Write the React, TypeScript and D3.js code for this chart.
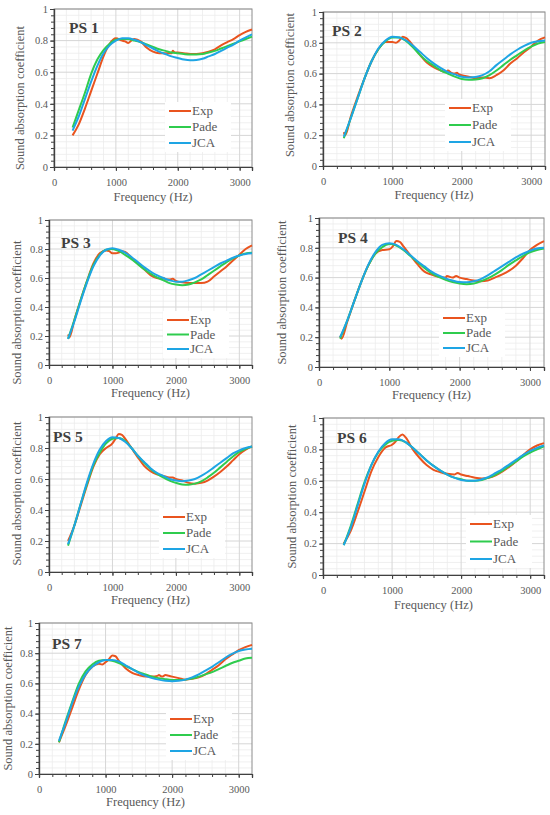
import { useRef, useEffect } from 'react';
import * as d3 from 'd3';

// shared frequency grid for the two model curves (Hz)
const freqs = [
  300, 400, 500, 600, 700, 800, 900, 1000, 1100, 1200, 1300, 1400, 1500, 1600, 1700,
  1800, 1900, 2000, 2100, 2200, 2300, 2400, 2500, 2600, 2700, 2800, 2900, 3000, 3100, 3200,
];
const xTicks = [0, 1000, 2000, 3000];
const yTicks = [0, 0.2, 0.4, 0.6, 0.8, 1];
const seriesNames = ['Exp', 'Pade', 'JCA'];
const seriesColors = ['#e9541f', '#2fcc4e', '#1ea5e4'];

// measured curves: [frequency, coefficient]
const ps1Exp: [number, number][] = [
  [300, 0.2], [400, 0.27], [500, 0.37], [600, 0.48], [700, 0.59], [800, 0.7], [900, 0.78],
  [1000, 0.815], [1100, 0.8], [1150, 0.795], [1200, 0.785], [1250, 0.8], [1300, 0.81],
  [1400, 0.795], [1500, 0.755], [1600, 0.73], [1700, 0.72], [1800, 0.72], [1900, 0.72],
  [1920, 0.735], [1950, 0.725], [2000, 0.725], [2100, 0.72], [2200, 0.715], [2300, 0.715],
  [2400, 0.72], [2500, 0.73], [2600, 0.745], [2700, 0.77], [2800, 0.79], [2900, 0.81],
  [3000, 0.835], [3100, 0.855], [3200, 0.87],
];
const ps1Pade = [0.25, 0.36, 0.47, 0.59, 0.68, 0.74, 0.78, 0.805, 0.81, 0.81, 0.8, 0.79, 0.775, 0.76, 0.745, 0.735, 0.725, 0.72, 0.715, 0.712, 0.712, 0.715, 0.725, 0.735, 0.75, 0.765, 0.78, 0.795, 0.81, 0.825];
const ps1Jca = [0.23, 0.32, 0.43, 0.54, 0.64, 0.72, 0.77, 0.8, 0.815, 0.815, 0.805, 0.79, 0.77, 0.75, 0.73, 0.715, 0.7, 0.69, 0.68, 0.675, 0.677, 0.685, 0.7, 0.715, 0.735, 0.755, 0.775, 0.8, 0.82, 0.84];

const ps2Exp: [number, number][] = [
  [300, 0.22], [320, 0.2], [400, 0.32], [500, 0.45], [600, 0.57], [700, 0.68], [800, 0.76],
  [900, 0.805], [1000, 0.805], [1050, 0.8], [1100, 0.815], [1150, 0.84], [1200, 0.83],
  [1300, 0.78], [1400, 0.72], [1500, 0.67], [1600, 0.64], [1700, 0.62], [1780, 0.61],
  [1800, 0.62], [1850, 0.605], [1900, 0.6], [1930, 0.605], [1960, 0.595], [2000, 0.59],
  [2100, 0.58], [2200, 0.57], [2300, 0.575], [2400, 0.57], [2500, 0.59], [2600, 0.62],
  [2700, 0.665], [2800, 0.7], [2900, 0.74], [3000, 0.775], [3100, 0.815], [3200, 0.835],
];
const ps2Pade = [0.18, 0.31, 0.44, 0.57, 0.68, 0.76, 0.81, 0.835, 0.835, 0.81, 0.77, 0.72, 0.68, 0.65, 0.62, 0.6, 0.58, 0.565, 0.56, 0.562, 0.57, 0.59, 0.62, 0.655, 0.69, 0.72, 0.75, 0.775, 0.795, 0.805];
const ps2Jca = [0.19, 0.31, 0.44, 0.57, 0.68, 0.765, 0.815, 0.84, 0.835, 0.815, 0.78, 0.74, 0.7, 0.665, 0.635, 0.61, 0.595, 0.58, 0.575, 0.578, 0.59, 0.615, 0.655, 0.69, 0.725, 0.755, 0.78, 0.8, 0.81, 0.815];

const ps3Exp: [number, number][] = [
  [300, 0.21], [320, 0.19], [400, 0.31], [500, 0.45], [600, 0.58], [700, 0.7], [800, 0.77],
  [900, 0.79], [950, 0.785], [1000, 0.77], [1050, 0.77], [1100, 0.775], [1150, 0.785],
  [1200, 0.78], [1300, 0.74], [1400, 0.7], [1500, 0.66], [1600, 0.62], [1700, 0.6],
  [1780, 0.595], [1800, 0.6], [1850, 0.59], [1900, 0.59], [1950, 0.595], [2000, 0.58],
  [2100, 0.57], [2200, 0.565], [2300, 0.565], [2400, 0.565], [2500, 0.575], [2600, 0.61],
  [2700, 0.645], [2800, 0.68], [2900, 0.72], [3000, 0.76], [3100, 0.8], [3200, 0.825],
];
const ps3Pade = [0.18, 0.31, 0.45, 0.58, 0.69, 0.76, 0.795, 0.8, 0.785, 0.76, 0.73, 0.695, 0.66, 0.63, 0.605, 0.585, 0.565, 0.555, 0.55, 0.555, 0.57, 0.59, 0.62, 0.65, 0.68, 0.71, 0.735, 0.755, 0.77, 0.775];
const ps3Jca = [0.18, 0.3, 0.44, 0.57, 0.68, 0.755, 0.795, 0.805, 0.795, 0.775, 0.745, 0.71, 0.675, 0.645, 0.62, 0.6, 0.585, 0.575, 0.575, 0.585, 0.6, 0.625, 0.65, 0.675, 0.7, 0.72, 0.74, 0.755, 0.765, 0.77];

const ps4Exp: [number, number][] = [
  [300, 0.21], [320, 0.19], [400, 0.3], [500, 0.44], [600, 0.57], [700, 0.68], [800, 0.76],
  [900, 0.785], [1000, 0.79], [1050, 0.81], [1100, 0.845], [1150, 0.84], [1200, 0.81],
  [1300, 0.75], [1400, 0.69], [1500, 0.64], [1600, 0.62], [1700, 0.605], [1800, 0.6],
  [1820, 0.61], [1900, 0.6], [1950, 0.61], [2000, 0.6], [2100, 0.59], [2200, 0.58],
  [2300, 0.575], [2400, 0.58], [2500, 0.6], [2600, 0.62], [2700, 0.645], [2800, 0.68],
  [2900, 0.73], [3000, 0.785], [3100, 0.82], [3200, 0.845],
];
const ps4Pade = [0.19, 0.31, 0.44, 0.57, 0.68, 0.76, 0.805, 0.825, 0.815, 0.785, 0.745, 0.705, 0.665, 0.63, 0.605, 0.585, 0.57, 0.56, 0.555, 0.56, 0.575, 0.595, 0.62, 0.65, 0.685, 0.715, 0.745, 0.77, 0.785, 0.795];
const ps4Jca = [0.2, 0.31, 0.44, 0.57, 0.685, 0.77, 0.82, 0.83, 0.82, 0.79, 0.75, 0.71, 0.675, 0.64, 0.615, 0.595, 0.58, 0.57, 0.568, 0.575, 0.59, 0.615, 0.645, 0.675, 0.705, 0.735, 0.76, 0.78, 0.795, 0.8];

const ps5Exp: [number, number][] = [
  [300, 0.2], [400, 0.3], [500, 0.43], [600, 0.56], [700, 0.68], [800, 0.76], [900, 0.8],
  [1000, 0.83], [1050, 0.86], [1100, 0.89], [1150, 0.885], [1200, 0.86], [1300, 0.8],
  [1400, 0.74], [1500, 0.685], [1600, 0.65], [1700, 0.63], [1800, 0.62], [1900, 0.61],
  [1950, 0.61], [2000, 0.6], [2100, 0.59], [2200, 0.575], [2300, 0.57], [2400, 0.575],
  [2500, 0.59], [2600, 0.615], [2700, 0.645], [2800, 0.68], [2900, 0.72], [3000, 0.76],
  [3100, 0.79], [3200, 0.81],
];
const ps5Pade = [0.17, 0.3, 0.44, 0.57, 0.69, 0.77, 0.83, 0.86, 0.865, 0.845, 0.8, 0.75, 0.705, 0.665, 0.635, 0.61, 0.59, 0.575, 0.565, 0.563, 0.57, 0.585, 0.61, 0.64, 0.675, 0.71, 0.745, 0.775, 0.795, 0.81];
const ps5Jca = [0.18, 0.3, 0.44, 0.58, 0.7, 0.79, 0.845, 0.87, 0.865, 0.84, 0.8, 0.75, 0.71, 0.67, 0.64, 0.62, 0.6, 0.59, 0.585, 0.59, 0.6, 0.62, 0.645, 0.675, 0.705, 0.735, 0.765, 0.785, 0.8, 0.81];

const ps6Exp: [number, number][] = [
  [300, 0.2], [400, 0.28], [500, 0.4], [600, 0.53], [700, 0.66], [800, 0.75], [900, 0.81],
  [1000, 0.83], [1050, 0.85], [1100, 0.88], [1150, 0.895], [1200, 0.875], [1300, 0.8],
  [1400, 0.745], [1500, 0.7], [1600, 0.67], [1700, 0.655], [1800, 0.645], [1900, 0.64],
  [1950, 0.65], [2000, 0.64], [2100, 0.63], [2200, 0.62], [2300, 0.615], [2400, 0.62],
  [2500, 0.635], [2600, 0.66], [2700, 0.69], [2800, 0.725], [2900, 0.765], [3000, 0.8],
  [3100, 0.825], [3200, 0.84],
];
const ps6Pade = [0.19, 0.31, 0.45, 0.59, 0.7, 0.78, 0.83, 0.855, 0.86, 0.845, 0.81, 0.77, 0.73, 0.695, 0.665, 0.64, 0.62, 0.61, 0.6, 0.6, 0.605, 0.62, 0.64, 0.665, 0.695, 0.725, 0.755, 0.78, 0.8, 0.82];
const ps6Jca = [0.19, 0.3, 0.44, 0.58, 0.7, 0.785, 0.84, 0.865, 0.865, 0.845, 0.81, 0.77, 0.73, 0.695, 0.665, 0.64, 0.62, 0.605, 0.6, 0.6, 0.61, 0.625, 0.65, 0.675, 0.705, 0.735, 0.765, 0.79, 0.81, 0.825];

const ps7Exp: [number, number][] = [
  [300, 0.21], [400, 0.32], [500, 0.44], [600, 0.56], [700, 0.655], [800, 0.71], [900, 0.73],
  [950, 0.725], [1000, 0.74], [1050, 0.76], [1100, 0.785], [1150, 0.78], [1200, 0.75],
  [1300, 0.7], [1400, 0.67], [1500, 0.655], [1600, 0.645], [1700, 0.645], [1780, 0.65],
  [1800, 0.655], [1850, 0.645], [1900, 0.655], [1950, 0.65], [2000, 0.645], [2100, 0.635],
  [2200, 0.625], [2300, 0.63], [2400, 0.64], [2500, 0.66], [2600, 0.69], [2700, 0.72],
  [2800, 0.76], [2900, 0.79], [3000, 0.82], [3100, 0.84], [3200, 0.855],
];
const ps7Pade = [0.21, 0.35, 0.48, 0.6, 0.68, 0.725, 0.75, 0.755, 0.75, 0.735, 0.715, 0.695, 0.675, 0.66, 0.645, 0.635, 0.628, 0.623, 0.622, 0.625, 0.632, 0.645, 0.66, 0.675, 0.695, 0.715, 0.735, 0.75, 0.765, 0.77];
const ps7Jca = [0.22, 0.34, 0.47, 0.58, 0.66, 0.71, 0.74, 0.755, 0.755, 0.745, 0.72, 0.695, 0.67, 0.65, 0.635, 0.625, 0.618, 0.615, 0.617, 0.625, 0.64, 0.66, 0.685, 0.71, 0.74, 0.77, 0.795, 0.815, 0.825, 0.83];

interface PanelSpec {
  title: string;
  exp: [number, number][];
  pade: number[];
  jca: number[];
  left: number;
  right: number;
  top: number;
  bottom: number;
  yLabelDx: number;
  yLabelDy: number;
  titleDx: number;
  titleDy: number;
  legendX: number;
  legendY: number;
  legendGap: number;
  xTitleDy: number;
}

const panels: PanelSpec[] = [
  { title: 'PS 1', exp: ps1Exp, pade: ps1Pade, jca: ps1Jca, left: 54, right: 252, top: 9, bottom: 167, yLabelDx: -34, yLabelDy: 10, titleDx: 15, titleDy: 24, legendX: 169, legendY: 111, legendGap: 16, xTitleDy: 34 },
  { title: 'PS 2', exp: ps2Exp, pade: ps2Pade, jca: ps2Jca, left: 323, right: 545, top: 12, bottom: 166, yLabelDx: -33, yLabelDy: -4, titleDx: 9, titleDy: 24, legendX: 449, legendY: 108, legendGap: 17, xTitleDy: 33 },
  { title: 'PS 3', exp: ps3Exp, pade: ps3Pade, jca: ps3Jca, left: 49, right: 252, top: 220, bottom: 365, yLabelDx: -32, yLabelDy: 20, titleDx: 12, titleDy: 28, legendX: 167, legendY: 320, legendGap: 14.5, xTitleDy: 32 },
  { title: 'PS 4', exp: ps4Exp, pade: ps4Pade, jca: ps4Jca, left: 319, right: 544, top: 218, bottom: 367, yLabelDx: -37, yLabelDy: 0, titleDx: 19, titleDy: 25, legendX: 443, legendY: 318, legendGap: 15, xTitleDy: 32 },
  { title: 'PS 5', exp: ps5Exp, pade: ps5Pade, jca: ps5Jca, left: 49, right: 252, top: 417, bottom: 572, yLabelDx: -32, yLabelDy: -1, titleDx: 4, titleDy: 25, legendX: 163, legendY: 517, legendGap: 16, xTitleDy: 32 },
  { title: 'PS 6', exp: ps6Exp, pade: ps6Pade, jca: ps6Jca, left: 323, right: 544, top: 418, bottom: 575, yLabelDx: -31, yLabelDy: 0, titleDx: 14, titleDy: 25, legendX: 470, legendY: 524, legendGap: 17.5, xTitleDy: 34 },
  { title: 'PS 7', exp: ps7Exp, pade: ps7Pade, jca: ps7Jca, left: 39, right: 252, top: 623, bottom: 774, yLabelDx: -31, yLabelDy: 0, titleDx: 13, titleDy: 26, legendX: 170, legendY: 719, legendGap: 16, xTitleDy: 32 },
];

const FONT = "'Liberation Serif', 'DejaVu Serif', serif";

export default function App() {
  const svgRef = useRef<SVGSVGElement>(null);

  useEffect(() => {
    if (!svgRef.current) return;
    const svg = d3.select(svgRef.current);
    svg.selectAll('*').remove();

    svg.append('rect').attr('width', 550).attr('height', 815).attr('fill', 'white');

    panels.forEach(p => {
      const x = d3.scaleLinear().domain([0, 3200]).range([p.left, p.right]);
      const y = d3.scaleLinear().domain([0, 1]).range([p.bottom, p.top]);
      const g = svg.append('g');

      // minor grid
      const minorX = d3.range(200, 3200, 200).filter(v => v % 1000 !== 0);
      const minorY = d3.range(1, 25).map(i => i * 0.04).filter(v => Math.abs(v / 0.2 - Math.round(v / 0.2)) > 0.01);
      g.selectAll('.mx').data(minorX).enter().append('line')
        .attr('x1', d => x(d)).attr('x2', d => x(d)).attr('y1', p.top).attr('y2', p.bottom)
        .attr('stroke', '#ececec').attr('stroke-width', 0.8);
      g.selectAll('.my').data(minorY).enter().append('line')
        .attr('x1', p.left).attr('x2', p.right).attr('y1', d => y(d)).attr('y2', d => y(d))
        .attr('stroke', '#ececec').attr('stroke-width', 0.8);

      // major grid
      g.selectAll('.gx').data(xTicks.slice(1)).enter().append('line')
        .attr('x1', d => x(d)).attr('x2', d => x(d)).attr('y1', p.top).attr('y2', p.bottom)
        .attr('stroke', '#d6d6d6').attr('stroke-width', 1);
      g.selectAll('.gy').data(yTicks.slice(1)).enter().append('line')
        .attr('x1', p.left).attr('x2', p.right).attr('y1', d => y(d)).attr('y2', d => y(d))
        .attr('stroke', '#d6d6d6').attr('stroke-width', 1);

      // plot frame
      g.append('rect')
        .attr('x', p.left).attr('y', p.top)
        .attr('width', p.right - p.left).attr('height', p.bottom - p.top)
        .attr('fill', 'none').attr('stroke', '#8c8c8c').attr('stroke-width', 1);

      // axes
      const xAxis = g.append('g').attr('transform', `translate(0,${p.bottom})`)
        .call(d3.axisBottom(x).tickValues(xTicks).tickSize(4).tickFormat(d => `${d}`));
      const xMinor = g.append('g').attr('transform', `translate(0,${p.bottom})`)
        .call(d3.axisBottom(x).tickValues(d3.range(200, 3200, 200)).tickSize(3).tickFormat(() => ''));
      const yAxis = g.append('g').attr('transform', `translate(${p.left},0)`)
        .call(d3.axisLeft(y).tickValues(yTicks).tickSize(4).tickFormat(d => `${d}`));
      const yMinor = g.append('g').attr('transform', `translate(${p.left},0)`)
        .call(d3.axisLeft(y).tickValues(d3.range(1, 25).map(i => i * 0.04)).tickSize(3).tickFormat(() => ''));

      [xAxis, xMinor, yAxis, yMinor].forEach(a => {
        a.select('.domain').attr('stroke', '#404040').attr('stroke-width', 1.2);
        a.selectAll('line').attr('stroke', '#404040');
        a.selectAll('text')
          .attr('fill', '#595959')
          .style('font-family', FONT)
          .style('font-size', '10.5px');
      });
      xAxis.selectAll('text').attr('dy', '1.1em');
      yAxis.selectAll('text').attr('x', -6);

      // curves
      const line = d3.line<[number, number]>()
        .x(d => x(d[0]))
        .y(d => y(d[1]))
        .curve(d3.curveMonotoneX);
      const curves: [number, number][][] = [
        p.exp,
        freqs.map((f, i) => [f, p.pade[i]] as [number, number]),
        freqs.map((f, i) => [f, p.jca[i]] as [number, number]),
      ];
      curves.forEach((c, i) => {
        g.append('path')
          .datum(c)
          .attr('fill', 'none')
          .attr('stroke', seriesColors[i])
          .attr('stroke-width', 2)
          .attr('stroke-linejoin', 'round')
          .attr('d', line);
      });

      // panel title
      g.append('text')
        .attr('x', p.left + p.titleDx)
        .attr('y', p.top + p.titleDy)
        .attr('fill', '#404040')
        .style('font-family', FONT)
        .style('font-size', '15.5px')
        .style('font-weight', 'bold')
        .text(p.title);

      // legend
      g.append('rect')
        .attr('x', p.legendX - 4)
        .attr('y', p.legendY - 9)
        .attr('width', 66)
        .attr('height', p.legendGap * 2 + 18)
        .attr('fill', 'white');
      seriesNames.forEach((name, i) => {
        const ly = p.legendY + i * p.legendGap;
        g.append('line')
          .attr('x1', p.legendX).attr('x2', p.legendX + 22)
          .attr('y1', ly).attr('y2', ly)
          .attr('stroke', seriesColors[i]).attr('stroke-width', 2);
        g.append('text')
          .attr('x', p.legendX + 23)
          .attr('y', ly + 4)
          .attr('fill', '#595959')
          .style('font-family', FONT)
          .style('font-size', '13px')
          .text(name);
      });

      // axis titles
      g.append('text')
        .attr('x', (p.left + p.right) / 2)
        .attr('y', p.bottom + p.xTitleDy)
        .attr('text-anchor', 'middle')
        .attr('fill', '#595959')
        .style('font-family', FONT)
        .style('font-size', '12.5px')
        .text('Frequency (Hz)');

      g.append('text')
        .attr('transform', `translate(${p.left + p.yLabelDx + 4},${(p.top + p.bottom) / 2 + p.yLabelDy}) rotate(-90)`)
        .attr('text-anchor', 'middle')
        .attr('fill', '#595959')
        .style('font-family', FONT)
        .style('font-size', '12.5px')
        .text('Sound absorption coefficient');
    });
  }, []);

  return (
    <svg
      ref={svgRef}
      width={550}
      height={815}
      style={{ position: 'absolute', left: 0, top: 0 }}
    />
  );
}
